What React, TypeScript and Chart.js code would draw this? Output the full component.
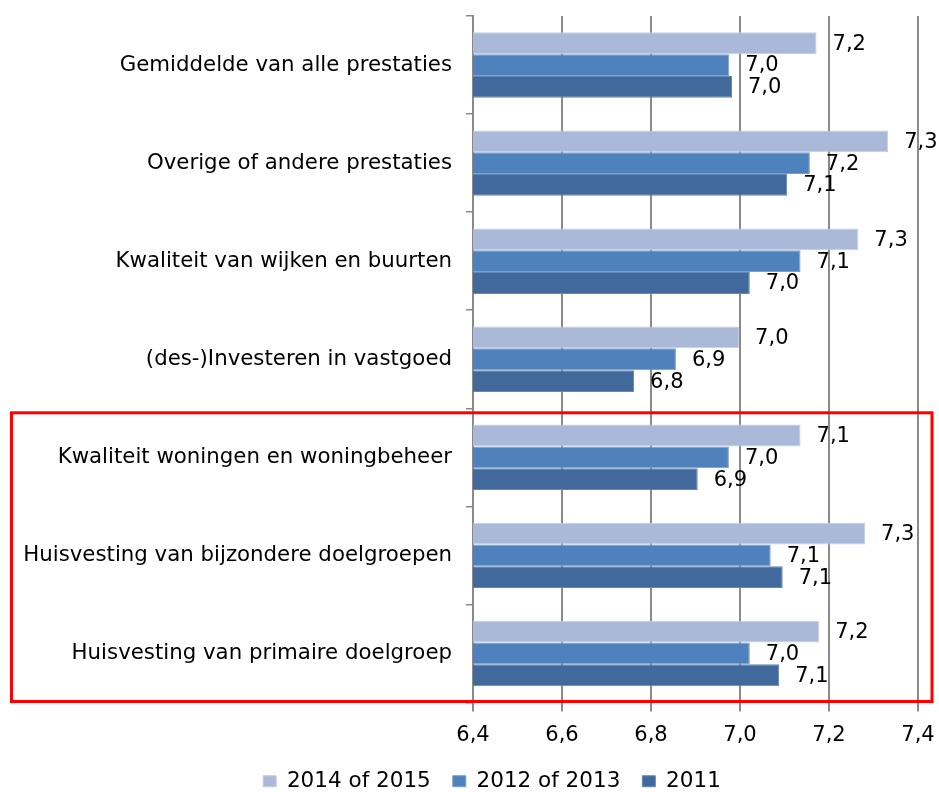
import React, { useEffect, useRef } from "react";
import { Chart, registerables } from "chart.js";

Chart.register(...registerables);

const categories = [
  "Gemiddelde van alle prestaties",
  "Overige of andere prestaties",
  "Kwaliteit van wijken en buurten",
  "(des-)Investeren in vastgoed",
  "Kwaliteit woningen en woningbeheer",
  "Huisvesting van bijzondere doelgroepen",
  "Huisvesting van primaire doelgroep",
];

const seriesNames = ["2014 of 2015", "2012 of 2013", "2011"];
const values2014 = [7.172, 7.333, 7.266, 6.998, 7.136, 7.281, 7.178];
const values2012 = [6.976, 7.157, 7.136, 6.856, 6.975, 7.069, 7.022];
const values2011 = [6.982, 7.106, 7.022, 6.762, 6.905, 7.096, 7.088];
const seriesColors = ["#AAB9D7", "#4F81BD", "#41699C"];
const seriesBorders = ["#C3CEE4", "#7A9ECD", "#6487B4"];

const xMin = 6.4;
const xMax = 7.4;
const xStep = 0.2;
const highlightFrom = 4; // first highlighted category index

const FONT = "'DejaVu Sans', Verdana, sans-serif";

const fmt = (v: number) => v.toFixed(1).replace(".", ",");

const valueLabels = {
  id: "valueLabels",
  afterDatasetsDraw(chart: any) {
    const ctx = chart.ctx;
    ctx.save();
    ctx.font = `21px ${FONT}`;
    ctx.fillStyle = "#000";
    ctx.textAlign = "left";
    ctx.textBaseline = "middle";
    chart.data.datasets.forEach((ds: any, di: number) => {
      const meta = chart.getDatasetMeta(di);
      meta.data.forEach((el: any, i: number) => {
        ctx.fillText(fmt(ds.data[i]), el.x + 16, el.y + 1);
      });
    });
    ctx.restore();
  },
};

const legendShift = {
  id: "legendShift",
  afterLayout(chart: any) {
    if (chart.legend) {
      chart.legend.left += 33;
      chart.legend.right += 33;
    }
  },
};

const highlightBox = {
  id: "highlightBox",
  afterDraw(chart: any) {
    const y = chart.scales.y;
    const ctx = chart.ctx;
    const top = (y.getPixelForTick(highlightFrom - 1) + y.getPixelForTick(highlightFrom)) / 2 + 4.5;
    const bottom = chart.chartArea.bottom - 1;
    ctx.save();
    ctx.strokeStyle = "#FF0000";
    ctx.lineWidth = 3;
    ctx.strokeRect(11.5, top, chart.chartArea.right + 14 - 11.5, bottom - top);
    ctx.restore();
  },
};

export default function App() {
  const ref = useRef<HTMLCanvasElement | null>(null);

  useEffect(() => {
    if (!ref.current) return;
    const chart = new Chart(ref.current, {
      type: "bar",
      data: {
        labels: categories,
        datasets: [values2014, values2012, values2011].map((d, i) => ({
          label: seriesNames[i],
          data: d,
          backgroundColor: seriesColors[i],
          borderColor: seriesBorders[i],
          borderWidth: 1,
          categoryPercentage: 0.667,
          barPercentage: 1,
        })),
      },
      options: {
        indexAxis: "y",
        responsive: false,
        animation: false,
        devicePixelRatio: 1,
        layout: { padding: { top: 16, left: 0, right: 21, bottom: 0 } },
        scales: {
          x: {
            min: xMin,
            max: xMax,
            base: xMin,
            ticks: {
              stepSize: xStep,
              color: "#000",
              font: { family: FONT, size: 21 },
              padding: 11,
              callback: (v: any) => fmt(Number(v)),
            },
            grid: {
              color: "#8A8A8A",
              lineWidth: 2,
              tickLength: 9,
              drawTicks: true,
            },
            border: { display: false },
            afterFit: (s: any) => {
              s.height = 46;
              s.paddingLeft = 0;
              s.paddingRight = 0;
            },
          },
          y: {
            ticks: {
              color: "#000",
              font: { family: FONT, size: 21.3 },
              padding: 14,
            },
            grid: {
              drawOnChartArea: false,
              drawTicks: true,
              tickLength: 7,
              color: "#8A8A8A",
              lineWidth: 1.5,
            },
            border: { display: true, color: "#8A8A8A", width: 2 },
            afterFit: (s: any) => {
              s.width = 473;
              s.paddingTop = 0;
              s.paddingBottom = 0;
            },
          },
        },
        plugins: {
          legend: {
            position: "bottom",
            labels: {
              boxWidth: 13,
              boxHeight: 11,
              padding: 22,
              color: "#000",
              font: { family: FONT, size: 21.5 },
            },
          },
          tooltip: { enabled: false },
        },
      },
      plugins: [valueLabels, highlightBox, legendShift],
    });
    return () => chart.destroy();
  }, []);

  return (
    <div style={{ position: "fixed", left: 0, top: 0, width: 939, height: 802, background: "#fff" }}>
      <canvas ref={ref} width={939} height={802} style={{ display: "block" }} />
    </div>
  );
}
